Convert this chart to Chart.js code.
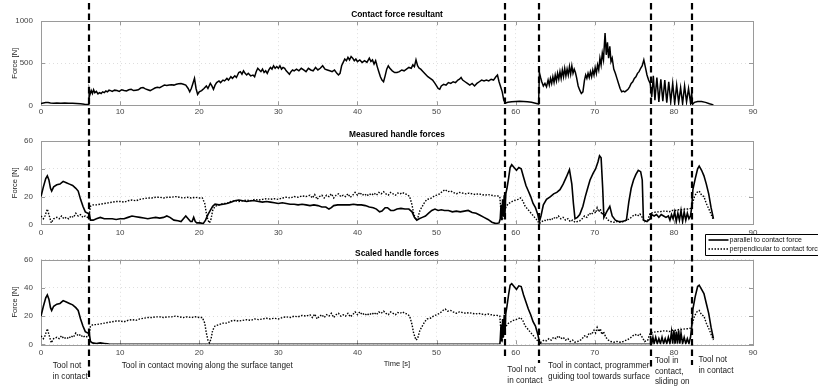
<!DOCTYPE html>
<html>
<head>
<meta charset="utf-8">
<script src="https://cdn.jsdelivr.net/npm/chart.js"></script>
<style>
  html, body { margin: 0; padding: 0; background: #fff; }
  #wrap { position: relative; width: 818px; height: 387px; overflow: hidden; }
  #wrap canvas { position: absolute; left: 0; top: 0; }
</style>
</head>
<body>
<div id="wrap">
  <canvas id="resultantCanvas" width="818" height="387"></canvas>
  <canvas id="measuredCanvas" width="818" height="387"></canvas>
  <canvas id="scaledCanvas" width="818" height="387"></canvas>
</div>
<script>
// ---- Recorded signals: [time s, force N] ----
const contactResultant = [
  [0,22],[0.3,28],[0.6,34],[0.9,33],[1.2,28],[1.6,24],[2,26],[2.5,25],[3,26],[3.5,25],[4,25],[4.5,22],[5,17],[5.5,12],[5.9,10],[6.05,12],
  [6.1,180],[6.2,130],[6.35,175],[6.5,140],[6.65,185],[6.8,150],[7,165],[7.2,135],[7.4,150],[7.6,140],[7.8,160],[8,150],[8.2,170],[8.4,160],
  [8.6,180],[8.8,175],[9,165],[9.3,180],[9.6,175],[9.9,165],[10.2,185],[10.5,175],[10.8,170],[11.1,185],[11.4,190],[11.7,175],[12,180],
  [12.3,185],[12.6,205],[12.9,210],[13.2,195],[13.5,185],[13.8,175],[14.1,190],[14.4,205],[14.7,215],[15,210],[15.3,225],[15.6,240],
  [15.9,235],[16.2,240],[16.5,245],[16.8,240],[17.1,250],[17.4,255],[17.7,260],[18,250],[18.3,240],[18.6,200],[18.8,160],[19,200],
  [19.2,260],[19.4,320],[19.6,200],[19.8,130],[20,160],[20.3,175],[20.6,200],[20.9,230],[21.1,200],[21.4,260],[21.6,230],[21.8,190],
  [22,240],[22.2,270],[22.5,290],[22.7,270],[23,300],[23.2,290],[23.5,320],[23.7,300],[24,340],[24.2,320],[24.5,350],[24.7,330],
  [25,390],[25.2,400],[25.4,370],[25.6,410],[25.8,380],[26,360],[26.2,380],[26.5,350],[26.8,360],[27,340],[27.2,400],[27.4,440],
  [27.6,420],[27.8,400],[28,430],[28.2,390],[28.4,410],[28.6,380],[28.8,420],[29,450],[29.2,430],[29.4,470],[29.6,440],[29.8,460],
  [30,440],[30.2,470],[30.4,430],[30.6,450],[30.8,440],[31,410],[31.2,390],[31.4,370],[31.6,400],[31.8,420],[32,410],[32.3,430],
  [32.6,410],[32.9,440],[33.2,420],[33.5,400],[33.8,440],[34.1,420],[34.4,410],[34.7,450],[35,420],[35.3,440],[35.6,470],[35.9,430],
  [36.2,420],[36.5,410],[36.8,400],[37.1,420],[37.4,380],[37.6,360],[37.8,380],[38,470],[38.2,510],[38.4,550],[38.6,530],[38.8,570],
  [39,540],[39.2,580],[39.4,560],[39.6,530],[39.8,550],[40,520],[40.3,540],[40.6,510],[40.9,530],[41.2,510],[41.5,560],[41.7,520],
  [41.9,540],[42.1,490],[42.3,530],[42.5,460],[42.7,400],[42.9,340],[43.1,300],[43.3,280],[43.5,350],[43.7,430],[43.9,470],[44.1,440],
  [44.4,410],[44.7,390],[45,390],[45.3,400],[45.6,420],[45.9,410],[46.2,430],[46.5,450],[46.8,440],[47,480],[47.2,460],[47.4,540],
  [47.6,470],[47.8,440],[48,430],[48.3,400],[48.6,370],[48.9,340],[49.2,320],[49.5,300],[49.8,260],[50,230],[50.2,200],[50.4,190],
  [50.6,230],[50.9,250],[51.2,240],[51.5,270],[51.8,260],[52.1,280],[52.4,270],[52.7,300],[52.9,310],[53.1,330],[53.3,300],[53.6,280],
  [53.9,260],[54.2,240],[54.5,260],[54.8,230],[55.1,260],[55.4,280],[55.7,300],[56,290],[56.3,300],[56.6,290],[56.9,310],[57.2,300],
  [57.5,340],[57.7,360],[57.9,280],[58.1,220],[58.3,160],[58.5,60],[58.7,25],
  [59,35],[59.5,42],[60,46],[60.5,47],[61,45],[61.5,42],[62,35],[62.5,25],[62.9,15],
  [63,390],[63.15,330],[63.3,280],[63.5,230],[63.7,260],[63.9,220],[64.1,300],[64.25,240],[64.4,320],[64.55,260],[64.7,340],[64.85,270],
  [65,360],[65.15,290],[65.3,380],[65.45,310],[65.6,400],[65.75,320],[65.9,420],[66.05,340],[66.2,440],[66.35,350],[66.5,430],
  [66.65,360],[66.8,460],[66.95,370],[67.1,470],[67.25,380],[67.4,430],[67.55,390],[67.7,330],[67.9,230],[68.1,180],[68.3,140],
  [68.5,160],[68.7,300],[68.85,360],[69,320],[69.15,380],[69.3,330],[69.45,400],[69.6,340],[69.75,420],[69.9,360],[70.05,450],
  [70.2,380],[70.35,480],[70.5,420],[70.65,560],[70.8,480],[70.95,620],[71.1,540],[71.3,860],[71.45,600],[71.6,750],[71.75,560],
  [71.9,700],[72.05,520],[72.2,560],[72.4,430],[72.6,380],[72.8,320],[73,260],[73.2,200],[73.4,160],[73.6,170],[73.8,160],[74,175],
  [74.2,190],[74.4,220],[74.6,260],[74.8,280],[75,320],[75.2,340],[75.4,380],[75.6,400],[75.8,440],[76,470],[76.2,540],[76.4,450],
  [76.6,360],[76.8,300],[77,260],
  [77.2,100],[77.4,350],[77.6,60],[77.85,330],[78.1,40],[78.35,310],[78.6,50],[78.85,300],[79.1,30],[79.35,280],[79.6,40],[79.85,260],
  [80.1,20],[80.35,240],[80.6,30],[80.85,210],[81.1,20],[81.35,230],[81.6,40],[81.85,200],[82.1,30],[82.25,150],[82.35,10],
  [82.6,35],[83,45],[83.5,45],[84,35],[84.5,18],[85,5]
];

const measuredParallel = [
  [0,20],[0.3,27],[0.6,33],[0.8,35],[1.0,32],[1.2,26],[1.35,24],[1.6,27],[2,28.5],[2.4,29],[2.8,31],[3.2,30],[3.6,29],[4,28],[4.4,26],
  [4.7,24],[5,18],[5.3,13],[5.6,9],[5.9,8],[6.1,8],[6.25,3],[6.6,3],[7,4],[7.5,5],[8,4],[8.5,4],[9,4],[9.5,3.5],[10,4],[10.5,4],[11,5],
  [11.5,6],[12,5.5],[12.5,5],[13,4.5],[13.5,4],[14,4.5],[14.5,5],[15,4.5],[15.5,5],[15.9,6],[16.3,5],[16.8,3],[17.3,2.5],[17.7,2],
  [18,4],[18.3,6],[18.6,4],[18.9,2],[19.1,2],[19.3,5],[19.5,2],[19.7,1],[20.1,1],[20.5,0.5],[20.8,3],[21.1,7],[21.4,10],[21.7,13],
  [22,14.5],[22.5,14],[23,14.5],[23.5,15],[24,16],[24.5,17],[25,17.5],[25.5,17],[26,16.5],[26.5,17],[27,17],[27.5,16.5],[28,16],
  [28.5,16.5],[29,16],[29.5,15.5],[30,15],[30.5,15.5],[31,15],[31.5,14.5],[32,14.5],[32.5,14],[33,14.5],[33.5,14],[34,13.5],[34.5,14],
  [35,13.5],[35.5,12.5],[36,12.5],[36.4,11],[36.7,12],[37,13.5],[37.5,14],[38,14],[38.5,14],[39,14],[39.5,14.5],[40,14],[40.5,14],
  [41,13.5],[41.5,12.5],[42,12],[42.4,11],[42.8,9],[43.1,9.5],[43.5,12],[43.8,12],[44.2,10],[44.6,10],[45,11],[45.5,11.5],[46,11],
  [46.5,11],[46.9,9],[47.2,5],[47.5,3],[47.8,4],[48.2,5],[48.6,6],[49,8],[49.4,10],[49.8,11],[50.2,10],[50.6,10.5],[51,10],[51.5,10],
  [52,9],[52.5,9.5],[53,9],[53.5,9.5],[54,10],[54.5,8.5],[55,8],[55.5,6.5],[56,5],[56.5,3.5],[57,1.5],[57.5,0.5],[57.9,1],[58.05,4],
  [58.15,14],[58.25,3],[58.35,18],[58.45,6],[58.55,21],[58.65,8],[58.75,22],[58.9,26],[59.1,33],[59.3,41],[59.5,43],[59.8,41],
  [60.1,39],[60.4,41],[60.7,40],[61,34],[61.3,28],[61.6,24],[61.9,20],[62.2,15],[62.5,12],[62.8,7],[63,2],[63.2,6],[63.5,14],
  [63.9,18],[64.4,20],[64.8,22],[65.2,23],[65.6,25],[66,29],[66.4,34],[66.8,39.5],[67.1,29],[67.3,15],[67.5,4],[67.8,5],[68.1,7],
  [68.5,13],[68.8,20],[69.1,26],[69.4,32],[69.8,37],[70.1,40],[70.4,45],[70.6,49.5],[70.8,48],[71,26],[71.15,5],[71.5,9],[71.9,13],
  [72.2,6],[72.6,3],[73,2],[73.5,2],[74,3],[74.3,16],[74.6,26],[74.9,32],[75.2,36],[75.5,39],[75.8,38],[76,32],[76.15,3],[76.6,2],
  [77,4],[77.2,7],[77.5,6],[77.8,7],[78.1,5],[78.4,7],[78.7,6],[79,5],[79.3,6],[79.5,3],[79.7,7],[79.9,4],[80.1,9],[80.3,2],[80.5,8],
  [80.7,3],[80.9,10],[81.1,2],[81.3,9],[81.5,3],[81.7,8],[81.9,4],[82.1,6],[82.25,12],[82.4,25],[82.7,33],[83,40],[83.2,42],[83.5,39],
  [83.8,35],[84.1,29],[84.4,22],[84.7,12],[85,4]
];

const measuredPerpendicular = [
  [0,6],[0.3,4],[0.5,6],[0.8,11],[1.1,5],[1.3,1],[1.6,4],[2,5],[2.3,4],[2.6,6],[2.9,4],[3.2,5],[3.5,4],[3.8,6],[4.1,5],[4.4,8],[4.7,6],
  [5,7],[5.3,5],[5.6,6],[5.9,5],[6.1,7],[6.25,13],[6.6,14],[7,14],[7.5,14.5],[8,15],[8.5,15.5],[9,16],[9.5,16.5],[10,16.5],[10.5,16],
  [11,17],[11.5,17.5],[12,17],[12.5,18],[13,18.5],[13.5,19],[14,19],[14.5,19.5],[15,19.5],[15.5,19],[16,19.5],[16.5,19.5],[17,20],
  [17.5,19.5],[18,19],[18.5,19.5],[19,19],[19.5,19.5],[20,19],[20.4,19],[20.7,15],[20.9,8],[21.1,3],[21.3,1],[21.5,4],[21.7,10],
  [22,13],[22.5,14],[23,15],[23.5,15],[24,16.5],[24.5,17],[25,16.5],[25.5,17],[26,17.5],[26.5,17],[27,18],[27.5,17.5],[28,18],
  [28.5,18.5],[29,18],[29.5,18.5],[30,18],[30.5,19],[31,19.5],[31.5,19],[32,20],[32.5,19.5],[33,20.5],[33.5,20],[34,21],[34.3,19],
  [34.6,21.5],[34.9,18],[35.2,20],[35.5,21],[35.8,19],[36.1,21],[36.4,20],[36.7,22],[37,19],[37.3,21],[37.6,22],[37.9,20],[38.2,21],
  [38.5,20],[38.8,22],[39.1,19.5],[39.4,21],[39.7,23],[40,21],[40.3,23],[40.6,21],[40.9,22],[41.2,20.5],[41.5,22],[41.8,21],
  [42.1,22.5],[42.4,21],[42.7,23],[43,22],[43.3,23.5],[43.6,22],[43.9,21],[44.2,23],[44.5,22],[44.8,21],[45.1,22.5],[45.4,22],
  [45.7,23],[46,22],[46.3,21.5],[46.6,20],[46.9,14],[47.1,8],[47.4,3],[47.6,4],[47.9,10],[48.2,13],[48.5,16],[48.8,18],[49.2,18.5],
  [49.6,20],[50,21],[50.4,22],[50.8,24],[51.1,25],[51.4,23.5],[51.8,24],[52.1,23],[52.5,22],[52.9,23],[53.3,22.5],[53.7,22],
  [54.1,22.5],[54.5,22],[54.9,21.5],[55.3,22],[55.7,21.5],[56.1,21],[56.5,21.5],[56.9,21],[57.3,20.5],[57.7,20.5],[58,20],[58.15,8],
  [58.3,3],[58.45,6],[58.6,10],[58.8,13],[59.1,15],[59.4,16],[59.7,17],[60,17.5],[60.3,18],[60.6,19],[60.9,17],[61.2,13],[61.5,11],
  [61.8,9],[62.1,7],[62.4,5],[62.7,3],[63,0.5],[63.3,2],[63.6,3],[63.9,2.5],[64.2,4],[64.5,3],[64.8,5],[65.1,4],[65.4,6],[65.7,4],
  [66,5],[66.3,3],[66.6,4],[66.9,2],[67.2,3],[67.5,1.5],[67.8,2],[68.1,2.5],[68.4,4],[68.7,6],[69,5],[69.3,8],[69.6,7],[69.9,10],
  [70.1,8],[70.3,12],[70.5,9],[70.7,11],[70.9,7],[71.1,9],[71.4,5],[71.7,3],[72,2],[72.4,1.5],[72.8,2],[73.2,1.5],[73.6,2],[74,3],
  [74.4,4],[74.8,6],[75.1,7],[75.4,6],[75.7,7.5],[76,5],[76.3,2],[76.7,3],[77,8],[77.4,8.5],[77.8,9],[78.2,9],[78.6,9.5],[79,9.5],
  [79.4,9],[79.8,10],[80.2,10],[80.6,10.5],[81,10.5],[81.4,11],[81.8,11],[82.1,11.5],[82.3,14],[82.6,20],[82.9,23],[83.2,24],
  [83.5,21],[83.8,20],[84.1,15],[84.5,10],[85,3]
];

const scaledParallel = [
  [0,20],[0.3,27],[0.6,33],[0.8,35],[1.0,32],[1.2,26],[1.35,24],[1.6,27],[2,28.5],[2.4,29],[2.8,31],[3.2,30],[3.6,29],[4,28],[4.4,26],
  [4.7,24],[5,18],[5.3,13],[5.6,9],[5.9,8],[6.1,8],[6.25,2],[6.5,1],[7,0.5],[7.5,1],[8,0.6],[8.4,0.3],[8.7,0],[58,0],[58.05,3],
  [58.15,14],[58.25,2],[58.35,18],[58.45,5],[58.55,21],[58.65,8],[58.75,22],[58.9,27],[59.1,35],[59.3,42],[59.5,43],[59.8,41],
  [60.1,39],[60.4,41.5],[60.7,41],[61,35],[61.3,30],[61.6,25],[61.9,21],[62.2,16],[62.5,13],[62.8,7],[63,2],[63.2,0],[77,0],
  [77.05,6],[77.2,0.5],[77.35,5],[77.5,0.5],[77.7,5],[77.9,0.5],[78.1,4],[78.3,0.5],[78.5,5],[78.7,0.5],[78.9,4],[79.1,0.5],
  [79.3,5],[79.5,0.5],[79.7,9],[79.85,0.5],[80,10],[80.15,0.5],[80.3,9],[80.45,0.5],[80.6,10],[80.75,0.5],[80.9,8],[81.1,0.5],
  [81.3,5],[81.5,0.5],[81.7,4],[81.9,0.5],[82.1,5],[82.25,12],[82.4,25],[82.7,34],[83,41],[83.2,42],[83.5,39],[83.8,36],[84.1,29],
  [84.4,22],[84.7,12],[85,4]
];

// The perpendicular component is left unchanged by the scaling
const scaledPerpendicular = measuredPerpendicular;

// Time axis and force ticks
const timeRange = [0, 90];
const timeStep = 10;
const resultantTicks = [0, 500, 1000];
const handleTicks = [0, 20, 40, 60];

// Phase boundaries [s] and the notes written under the time axis
const phaseBoundaries = [6.1, 58.7, 63.0, 77.1, 82.3];
const phaseNotes = [
  ["Tool not", "in contact"],
  ["Tool in contact moving along the surface tanget"],
  ["Tool not", "in contact"],
  ["Tool in contact, programmer", "guiding tool towards surface"],
  ["Tool in", "contact,", "sliding on"],
  ["Tool not", "in contact"]
];
const seriesNames = ["parallel to contact force", "perpendicular to contact force"];

// ---- Drawing ----
const FONT = "'Liberation Sans', Arial, Helvetica, sans-serif";
Chart.defaults.font.family = FONT;
Chart.defaults.font.size = 8;
Chart.defaults.animation = false;
Chart.defaults.events = [];

const toXY = pts => pts.map(([x, y]) => ({ x, y }));

// Axes box with inward tick marks, drawn beneath the curves
const framePlugin = {
  id: 'frame',
  beforeDatasetsDraw(chart) {
    const { ctx, chartArea: a, scales: { x, y } } = chart;
    ctx.save();
    ctx.strokeStyle = '#9a9a9a';
    ctx.lineWidth = 1;
    ctx.strokeRect(Math.round(a.left) + 0.5, Math.round(a.top) + 0.5,
                   Math.round(a.right - a.left), Math.round(a.bottom - a.top));
    ctx.beginPath();
    x.ticks.forEach(t => {
      const px = Math.round(x.getPixelForValue(t.value)) + 0.5;
      ctx.moveTo(px, a.bottom); ctx.lineTo(px, a.bottom - 4);
      ctx.moveTo(px, a.top); ctx.lineTo(px, a.top + 4);
    });
    y.ticks.forEach(t => {
      const py = Math.round(y.getPixelForValue(t.value)) + 0.5;
      ctx.moveTo(a.left, py); ctx.lineTo(a.left + 4, py);
      ctx.moveTo(a.right, py); ctx.lineTo(a.right - 4, py);
    });
    ctx.stroke();
    ctx.restore();
  }
};

// Phase boundaries, phase notes and the legend, drawn on the top layer
const overlayPlugin = {
  id: 'overlay',
  afterDraw(chart) {
    const { ctx, scales: { x } } = chart;
    ctx.save();
    // dashed phase boundaries crossing all three panels
    const reach = [381, 358, 363, 367, 365];
    ctx.strokeStyle = '#000';
    ctx.lineWidth = 2.2;
    ctx.setLineDash([6.5, 4]);
    phaseBoundaries.forEach((t, i) => {
      const px = Math.round(x.getPixelForValue(t));
      ctx.beginPath();
      ctx.moveTo(px, 3);
      ctx.lineTo(px, reach[i]);
      ctx.stroke();
    });
    ctx.setLineDash([]);

    // notes under the time axis
    const anchors = [
      { t: 1.48, y: 366 }, { t: 10.2, y: 366 }, { t: 58.95, y: 370 },
      { t: 64.1, y: 366 }, { t: 77.6, y: 361 }, { t: 83.1, y: 360 }
    ];
    ctx.fillStyle = '#1a1a1a';
    ctx.font = `8.2px ${FONT}`;
    ctx.textAlign = 'left';
    ctx.textBaseline = 'middle';
    phaseNotes.forEach((lines, i) => {
      const px = x.getPixelForValue(anchors[i].t);
      lines.forEach((s, k) => ctx.fillText(s, px, anchors[i].y + k * 10.6));
    });

    // legend box
    const lx = 705.5, ly = 234.5, lh = 21;
    ctx.fillStyle = '#fff';
    ctx.fillRect(lx, ly, 140, lh);
    ctx.strokeStyle = '#000';
    ctx.lineWidth = 1;
    ctx.beginPath();
    ctx.moveTo(lx + 140, ly); ctx.lineTo(lx, ly); ctx.lineTo(lx, ly + lh); ctx.lineTo(lx + 140, ly + lh);
    ctx.stroke();
    ctx.font = `7px ${FONT}`;
    ctx.fillStyle = '#111';
    chart.data.datasets.forEach((ds, i) => {
      const ry = ly + 5.5 + i * 9;
      ctx.strokeStyle = ds.borderColor;
      ctx.lineWidth = ds.borderWidth;
      ctx.setLineDash(ds.borderDash || []);
      ctx.beginPath();
      ctx.moveTo(lx + 3, ry); ctx.lineTo(lx + 23, ry);
      ctx.stroke();
      ctx.setLineDash([]);
      ctx.fillText(ds.label, lx + 24, ry + 0.5);
    });
    ctx.restore();
  }
};

function panel(canvasId, cfg) {
  return new Chart(document.getElementById(canvasId), {
    type: 'line',
    data: { datasets: cfg.datasets },
    options: {
      responsive: false,
      maintainAspectRatio: false,
      layout: { padding: { left: 0, right: 65, top: cfg.padTop, bottom: cfg.padBottom } },
      elements: { point: { radius: 0 }, line: { tension: 0 } },
      plugins: {
        legend: { display: false },
        tooltip: { enabled: false },
        title: {
          display: true, text: cfg.title, fullSize: false,
          color: '#000', font: { size: 8.4, weight: 'bold' },
          padding: { top: cfg.titleTop, bottom: cfg.titleBottom }
        }
      },
      scales: {
        x: {
          type: 'linear', min: timeRange[0], max: timeRange[1],
          afterFit: s => { s.height = cfg.xHeight; },
          ticks: { stepSize: timeStep, autoSkip: false, maxRotation: 0, color: '#444', padding: cfg.xPad,
                   font: { size: 8 }, callback: v => String(v) },
          grid: { color: 'rgba(0,0,0,0.13)', drawTicks: false, lineWidth: 1 },
          border: { display: false, dash: [1, 3] },
          title: cfg.xTitle ? { display: true, text: cfg.xTitle, color: '#222', font: { size: 7.5 },
                                padding: { top: 0, bottom: 18.3 } } : { display: false }
        },
        y: {
          min: cfg.yTicks[0], max: cfg.yTicks[cfg.yTicks.length - 1],
          afterFit: s => { s.width = 41; },
          afterBuildTicks: s => { s.ticks = cfg.yTicks.map(v => ({ value: v })); },
          ticks: { color: '#444', padding: 8, font: { size: 8 }, callback: v => String(v) },
          grid: { color: 'rgba(0,0,0,0.13)', drawTicks: false, lineWidth: 1 },
          border: { display: false, dash: [1, 3] },
          title: { display: true, text: 'Force [N]', color: '#222', font: { size: 7.5 },
                   padding: { top: 10.5, bottom: 0 } }
        }
      }
    },
    plugins: cfg.plugins
  });
}

const solid = (label, pts, w) => ({ label, data: toXY(pts), borderColor: '#000', borderWidth: w, fill: false });
const dotted = (label, pts) => ({ label, data: toXY(pts), borderColor: '#000', borderWidth: 1.4, borderDash: [1.5, 1.5], fill: false });

panel('resultantCanvas', {
  title: 'Contact force resultant', padTop: 0, padBottom: 267, titleTop: 9.7, titleBottom: 1.4,
  xHeight: 14.7, xPad: 2, yTicks: resultantTicks,
  datasets: [solid('contact force resultant', contactResultant, 1.5)],
  plugins: [framePlugin]
});

panel('measuredCanvas', {
  title: 'Measured handle forces', padTop: 120, padBottom: 147, titleTop: 9.7, titleBottom: 1.4,
  xHeight: 15.7, xPad: 3.5, yTicks: handleTicks,
  datasets: [solid(seriesNames[0], measuredParallel, 1.6), dotted(seriesNames[1], measuredPerpendicular)],
  plugins: [framePlugin]
});

panel('scaledCanvas', {
  title: 'Scaled handle forces', padTop: 240, padBottom: 0, titleTop: 8.2, titleBottom: 1.5,
  xHeight: 42.7, xPad: 4, yTicks: handleTicks, xTitle: 'Time [s]',
  datasets: [solid(seriesNames[0], scaledParallel, 1.6), dotted(seriesNames[1], scaledPerpendicular)],
  plugins: [framePlugin, overlayPlugin]
});
</script>
</body>
</html>
